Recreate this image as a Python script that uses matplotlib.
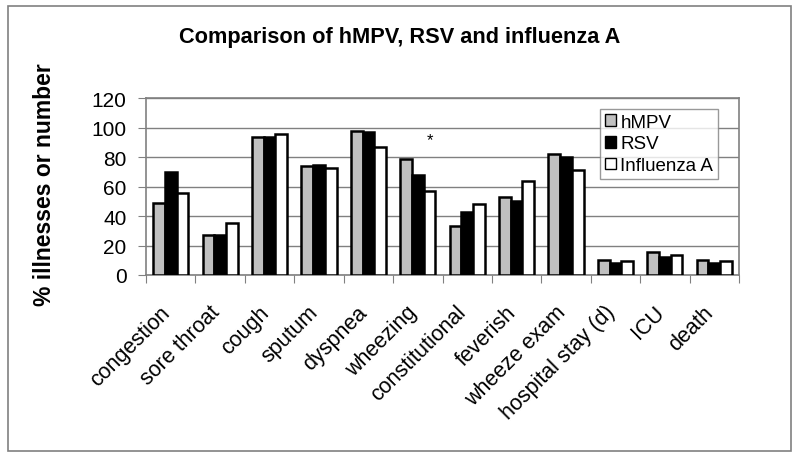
import matplotlib
matplotlib.use("Agg")
import matplotlib.pyplot as plt
import numpy as np
from matplotlib.patches import Rectangle

plt.rcParams['font.family'] = ['Liberation Sans', 'DejaVu Sans']

categories = ["congestion", "sore throat", "cough", "sputum", "dyspnea", "wheezing",
              "constitutional", "feverish", "wheeze exam", "hospital stay (d)", "ICU", "death"]
hmpv = [49, 27, 94, 74, 98, 79, 33, 53, 82, 10.5, 15.5, 10.5]
rsv = [70, 27, 94, 75, 97, 68, 43, 50, 80, 8, 12, 8]
flu = [56, 35, 96, 73, 87, 57, 48, 64, 71, 9.5, 13.5, 9.5]
series_names = ["hMPV", "RSV", "Influenza A"]
yticks = [0, 20, 40, 60, 80, 100, 120]

fig = plt.figure(figsize=(8, 4.6), dpi=100)
ax = fig.add_axes([146/800, 1-276/460, (739-146)/800, (276-99.3)/460])

x = np.arange(len(categories))
w = 0.237
colors = ["#c0c0c0", "#000000", "#ffffff"]
for i, (vals, c, name) in enumerate(zip([hmpv, rsv, flu], colors, series_names)):
    ax.bar(x + (i - 1) * w, vals, w, color=c, edgecolor="black", linewidth=1.8,
           label=name, zorder=3)

ax.text(5 + w, 92, "*", ha="center", va="center", fontsize=12, zorder=4)

ax.set_xlim(-0.5, len(categories) - 0.5)
ax.set_ylim(0, 120)
ax.set_yticks(yticks)
ax.set_yticklabels([str(t) for t in yticks], fontsize=15)
ax.set_xticks(np.arange(len(categories) + 1) - 0.5)
ax.set_xticklabels([])
# label anchors sit slightly left of the category centres (Excel-style rotated labels)
ax.set_xticks(x - 0.23, minor=True)
ax.set_xticklabels(categories, minor=True, rotation=45, ha="right", va="top",
                   rotation_mode="anchor", fontsize=15.5)
ax.tick_params(axis="x", which="minor", length=0, pad=19)
ax.tick_params(axis="x", which="major", length=6, color="#808080", direction="out")
ax.tick_params(axis="y", length=6, color="#808080", direction="out", pad=8)

ax.yaxis.grid(True, color="#808080", linewidth=1, zorder=0)
for s in ax.spines.values():
    s.set_color("#808080")
    s.set_linewidth(1.2)

ax.set_ylabel("% illnesses or number", fontsize=16.5, fontweight="bold")
ax.yaxis.set_label_coords(-0.152, 0.515)
fig.text(0.5, 1 - 38/460, "Comparison of hMPV, RSV and influenza A", ha="center",
         va="center", fontsize=15.7, fontweight="bold")

leg = ax.legend(loc="upper right", bbox_to_anchor=((718-146)/593, (276-110)/176.7),
                fontsize=13.5, frameon=True, fancybox=False, handlelength=0.6,
                handleheight=0.6, handletextpad=0.25, borderpad=0.25, labelspacing=0.25,
                borderaxespad=0)
leg.get_frame().set_edgecolor("#808080")
leg.get_frame().set_linewidth(1)
for h in leg.legend_handles:
    h.set_linewidth(1)

fig.patches.append(Rectangle((8/800, 1-452/460), (791-8)/800, (452-7)/460,
                             transform=fig.transFigure, fill=False,
                             edgecolor="#808080", linewidth=1.2))

fig.savefig("out.png", dpi=100)
